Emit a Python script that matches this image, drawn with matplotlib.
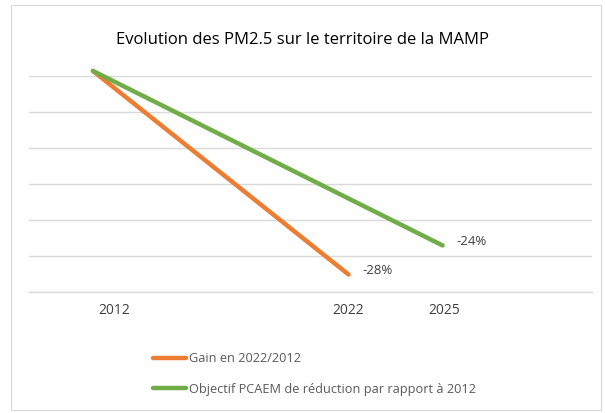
#!/usr/bin/env python3
"""
Purpose: Redraw the PM2.5 evolution chart (MAMP territory)
"""

import numpy as np
import matplotlib
matplotlib.use('Agg')
from matplotlib import pyplot as plt
from matplotlib.patches import Rectangle

# data (change relative to 2012, in %)
years = ['2012', '2022', '2025']
gain_years = ['2012', '2022']
gain_values = [0, -28]
goal_years = ['2012', '2025']
goal_values = [0, -24]
gain_label = 'Gain en 2022/2012'
goal_label = 'Objectif PCAEM de réduction par rapport à 2012'
title = 'Evolution des PM2.5 sur le territoire de la MAMP'

# layout: slot of each year on the horizontal axis, and of its label
year_slot = {'2012': 0.0, '2022': 2.72, '2025': 3.72}
label_slot = {'2012': 0.23, '2022': 2.72, '2025': 3.74}

ORANGE = '#ED7D31'
GREEN = '#70AD47'
GRID = '#D9D9D9'
TEXT = '#404040'
FONT = ['Open Sans', 'DejaVu Sans']


def plot_evolution(a_plotfile):
    """ Function to draw the chart and save it
    Parameters:
        a_plotfile (str): Filename to save the chart in
    Returns:
        None
    """
    plt.rcParams['font.family'] = FONT
    fig = plt.figure(figsize=(6.05, 4.13), dpi=100)
    # light frame around the whole chart (Excel style)
    fig.patches.append(Rectangle((11 / 605, 3 / 413), 590 / 605, 405 / 413,
            transform=fig.transFigure, fill=False, edgecolor=GRID,
            linewidth=0.8))
    ax = fig.add_axes([29 / 605, 1 - 292 / 413, 563 / 605, 216 / 413])
    # lines
    gx = [year_slot[y] for y in gain_years]
    ox = [year_slot[y] for y in goal_years]
    l1, = ax.plot(gx, gain_values, color=ORANGE, linewidth=3.2,
            solid_capstyle='round', clip_on=False, zorder=3, label=gain_label)
    l2, = ax.plot(ox, goal_values, color=GREEN, linewidth=3.2,
            solid_capstyle='round', clip_on=False, zorder=3, label=goal_label)
    # data labels at the end of each line
    for xs, vals in ((gx, gain_values), (ox, goal_values)):
        ax.annotate('{:d}%'.format(vals[-1]), (xs[-1], vals[-1]),
                xytext=(10, 3), textcoords='offset points', ha='left',
                va='center', fontsize=9.5, color=TEXT)
    # axes
    ax.set_xlim(-0.68, 5.31)
    ax.set_ylim(-30.4, -0.7)
    ax.set_yticks(np.linspace(-30.4, -0.7, 7))
    ax.set_yticklabels([])
    ax.grid(True, axis='y', color=GRID, linewidth=1.0)
    ax.set_axisbelow(True)
    ax.tick_params(length=0)
    ax.set_xticks([label_slot[y] for y in years])
    ax.set_xticklabels(years, fontsize=10, color=TEXT)
    ax.tick_params(axis='x', pad=8)
    for s in ax.spines.values():
        s.set_visible(False)
    ax.spines['bottom'].set_visible(True)
    ax.spines['bottom'].set_color(GRID)
    ax.spines['bottom'].set_linewidth(1.0)
    fig.text(0.5, 1 - 40 / 413, title, ha='center', va='center',
            fontsize=12, color='#000000')
    fig.legend(handles=[l1, l2], loc='center left',
            bbox_to_anchor=(153 / 605, 1 - 374 / 413), frameon=False,
            fontsize=9.2, handlelength=2.6, handletextpad=0.2,
            labelspacing=1.4, borderpad=0, borderaxespad=0,
            labelcolor='#595959')
    fig.savefig(a_plotfile, dpi=100)
# enddef plot_evolution() #


if __name__ == "__main__":
    plot_evolution('out.png')
# endif #
